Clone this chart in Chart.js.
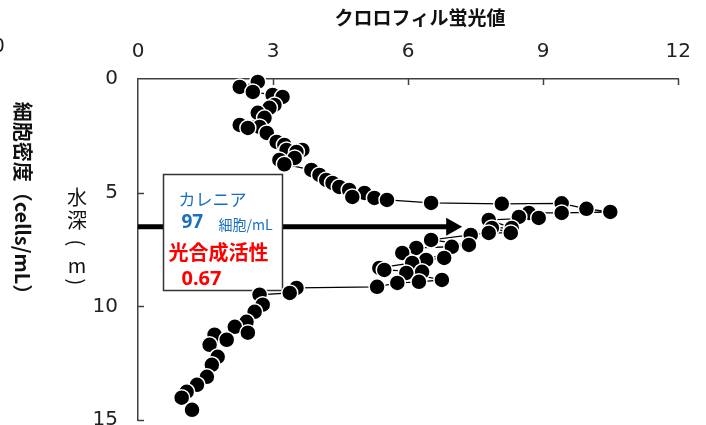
<!DOCTYPE html>
<html lang="ja">
<head>
<meta charset="utf-8">
<title>クロロフィル蛍光値</title>
<script src="https://cdn.jsdelivr.net/npm/chart.js@4.4.1/dist/chart.umd.min.js"></script>
<style>
  html, body { margin:0; padding:0; background:#fff; }
  #wrap { width:706px; height:425px; overflow:hidden; }
  canvas { display:block; }
</style>
</head>
<body>
<div id="wrap"><canvas id="profileChart" width="706" height="452"></canvas></div>
<script>
/* ===== chlorophyll profile ===== */

const X_TICKS = [0, 3, 6, 9, 12];
const Y_TICKS = [0, 5, 10, 15];

// クロロフィル蛍光値 (in depth order)
const CHL = [
  2.66, 2.26, 2.55, 2.99, 3.21, 3.03, 2.92, 2.66, 2.81, 2.26,
  2.70, 2.44, 2.86, 3.08, 3.25, 3.30, 3.65, 3.52, 3.48, 3.14,
  3.25, 3.85, 4.03, 4.18, 4.32, 4.47, 4.69, 5.03, 4.76, 5.25,
  5.53, 6.51, 8.08, 9.41, 9.96, 10.49, 9.41, 8.68, 8.46, 8.90,
  7.79, 8.30, 7.86, 8.28, 7.79, 7.39, 6.51, 7.35, 6.97, 6.18,
  5.87, 6.80, 6.40, 6.09, 5.36, 5.47, 6.31, 5.96, 6.75, 6.24,
  5.76, 5.31, 3.52, 3.37, 2.70, 2.77, 2.59, 2.41, 2.15, 2.44,
  1.70, 1.97, 1.59, 1.77, 1.64, 1.53, 1.31, 1.08, 0.97, 1.20
];
// 水深 (m)
const DEPTH = [
  0.13, 0.35, 0.57, 0.70, 0.79, 1.14, 1.27, 1.49, 1.71, 2.02,
  2.11, 2.15, 2.37, 2.77, 2.90, 3.12, 3.12, 3.21, 3.47, 3.56,
  3.75, 4.00, 4.22, 4.44, 4.57, 4.75, 4.88, 5.01, 5.19, 5.23,
  5.32, 5.45, 5.49, 5.47, 5.71, 5.85, 5.89, 5.89, 6.07, 6.11,
  6.20, 6.55, 6.55, 6.77, 6.77, 6.86, 7.08, 7.30, 7.38, 7.43,
  7.65, 7.87, 7.96, 8.09, 8.31, 8.40, 8.48, 8.53, 8.84, 8.92,
  8.97, 9.14, 9.19, 9.41, 9.49, 9.93, 10.24, 10.68, 10.90, 11.16,
  11.25, 11.47, 11.69, 12.22, 12.57, 13.10, 13.45, 13.76, 14.02, 14.55
];

// annotation (in axis units)
const ARROW = { x0: 0, x1: 7.2, y: 6.5 };
const BOX = { x0: 0.55, x1: 3.19, y0: 4.18, y1: 9.27 };

const NARROW = '"DejaVu Sans", "Liberation Sans", sans-serif';
const JP = '"Noto Sans CJK JP", "Noto Sans", sans-serif';
const BLUE = '#1a6fc2';
const RED = '#ff0000';

// ── extra drawing: inner ticks, arrow, text box, axis titles ──
const decorPlugin = {
  id: 'decor',
  beforeDatasetsDraw(chart) {
    const { ctx, chartArea: a, scales: { x, y } } = chart;
    ctx.save();

    // inner tick marks
    ctx.strokeStyle = '#404040';
    ctx.lineWidth = 1.5;
    X_TICKS.slice(1).forEach(v => {
      const px = Math.round(x.getPixelForValue(v)) + 0.5;
      ctx.beginPath(); ctx.moveTo(px, a.top); ctx.lineTo(px, a.top + 6); ctx.stroke();
    });
    Y_TICKS.slice(1).forEach(v => {
      const py = Math.round(y.getPixelForValue(v)) + 0.5;
      ctx.beginPath(); ctx.moveTo(a.left, py); ctx.lineTo(a.left + 6, py); ctx.stroke();
    });

    // arrow
    const ax0 = x.getPixelForValue(ARROW.x0), ax1 = x.getPixelForValue(ARROW.x1);
    const ay = y.getPixelForValue(ARROW.y);
    ctx.strokeStyle = '#000';
    ctx.lineWidth = 5;
    ctx.beginPath(); ctx.moveTo(ax0, ay); ctx.lineTo(ax1 - 12, ay); ctx.stroke();
    ctx.fillStyle = '#000';
    ctx.beginPath();
    ctx.moveTo(ax1, ay); ctx.lineTo(ax1 - 16, ay - 9); ctx.lineTo(ax1 - 16, ay + 9);
    ctx.closePath(); ctx.fill();

    // text box
    const bl = Math.round(x.getPixelForValue(BOX.x0)) + 0.5;
    const br = Math.round(x.getPixelForValue(BOX.x1)) + 0.5;
    const bt = Math.round(y.getPixelForValue(BOX.y0)) + 0.5;
    const bb = Math.round(y.getPixelForValue(BOX.y1)) + 0.5;
    ctx.fillStyle = '#fff';
    ctx.fillRect(bl, bt, br - bl, bb - bt);
    ctx.strokeStyle = '#333';
    ctx.lineWidth = 1.5;
    ctx.strokeRect(bl, bt, br - bl, bb - bt);

    ctx.textAlign = 'left';
    ctx.textBaseline = 'middle';
    ctx.fillStyle = BLUE;
    ctx.font = '17px ' + JP;
    ctx.fillText('カレニア', bl + 15, bt + 25);
    ctx.font = 'bold 19px "Noto Sans", ' + JP;
    ctx.fillText('97', bl + 18, bt + 48);
    ctx.font = '14px ' + JP;
    ctx.fillText('細胞/mL', bl + 55, bt + 50);
    ctx.fillStyle = RED;
    ctx.font = 'bold 20px ' + JP;
    ctx.fillText('光合成活性', bl + 5, bt + 78);
    ctx.font = 'bold 20px "Noto Sans", ' + JP;
    ctx.fillText('0.67', bl + 18, bt + 105);

    ctx.restore();
  },
  afterDraw(chart) {
    const { ctx } = chart;
    ctx.save();
    ctx.fillStyle = '#111';
    ctx.textAlign = 'center';
    ctx.textBaseline = 'middle';

    // top title
    ctx.font = 'bold 19px ' + JP;
    ctx.fillText('クロロフィル蛍光値', 420, 18);

    // cut-off label at the left edge
    ctx.font = 'condensed 20px ' + NARROW;
    ctx.fillText('0', -1, 47);

    // 細胞密度 (rotated)
    ctx.save();
    ctx.translate(23, 203);
    ctx.rotate(Math.PI / 2);
    ctx.font = 'bold 20px ' + JP;
    ctx.fillText('細胞密度（cells/mL）', 0, 0);
    ctx.restore();

    // 水深(m) stacked
    ctx.font = '20px ' + JP;
    ctx.fillText('水', 77, 197);
    ctx.fillText('深', 77, 220);
    ctx.fillText('m', 77, 265);
    [['(', 243], [')', 282]].forEach(([ch, cy]) => {
      ctx.save();
      ctx.translate(77, cy);
      ctx.rotate(Math.PI / 2);
      ctx.fillText(ch, 0, 0);
      ctx.restore();
    });
    ctx.restore();
  }
};

// ── Profile chart (scatter + line) ──
function initProfileChart() {
  const canvas = document.getElementById('profileChart');
  if (!canvas) return;

  const tickFont = { family: NARROW, size: 20, style: 'normal condensed' };

  new Chart(canvas.getContext('2d'), {
    type: 'scatter',
    data: {
      datasets: [{
        data: CHL.map((v, i) => ({ x: v, y: DEPTH[i] })),
        showLine: true,
        borderColor: '#000', borderWidth: 1.3,
        pointRadius: 8, pointHoverRadius: 8,
        pointBackgroundColor: '#000', pointBorderColor: '#fff', pointBorderWidth: 1.5,
        clip: false,
      }]
    },
    options: {
      responsive: false,
      animation: false,
      devicePixelRatio: 1,
      layout: { padding: { left: 0, top: 0, right: 26, bottom: 20 } },
      plugins: { legend: { display: false }, tooltip: { enabled: false } },
      scales: {
        x: {
          type: 'linear', position: 'top', min: 0, max: 12,
          afterBuildTicks: s => { s.ticks = X_TICKS.map(v => ({ value: v })); },
          afterFit: s => { s.height = 79; },
          grid: { display: false, drawTicks: false },
          border: { display: true, color: '#404040', width: 1.5 },
          ticks: { padding: 15, color: '#222', font: tickFont }
        },
        y: {
          type: 'linear', reverse: true, min: 0, max: 15,
          afterBuildTicks: s => { s.ticks = Y_TICKS.map(v => ({ value: v })); },
          afterFit: s => { s.width = 138; },
          grid: { display: false, drawTicks: false },
          border: { display: true, color: '#404040', width: 1.5 },
          ticks: { padding: 20, color: '#222', font: tickFont }
        }
      }
    },
    plugins: [decorPlugin]
  });
}

document.addEventListener('DOMContentLoaded', initProfileChart);
</script>
</body>
</html>
